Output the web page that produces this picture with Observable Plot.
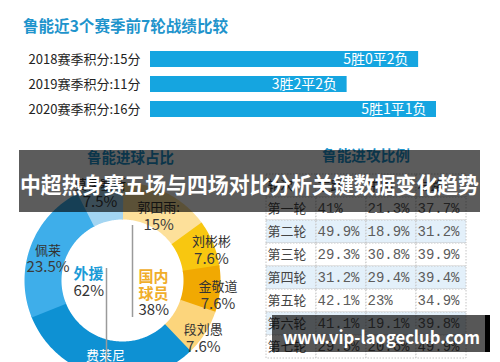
<!DOCTYPE html>
<html><head><meta charset="utf-8">
<script src="https://cdn.jsdelivr.net/npm/d3@7"></script>
<script src="https://cdn.jsdelivr.net/npm/@observablehq/plot@0.6"></script>
<style>
html,body{margin:0;padding:0;background:#fff;}
#wrap{position:relative;width:500px;height:362px;overflow:hidden;background:#fff;font-family:"Noto Sans CJK SC",sans-serif;}
#wrap > svg{position:absolute;left:0;top:0;}
</style></head><body><div id="wrap"></div>
<script>
// ---------- data ----------
const seasons = ["2018", "2019", "2020"];
const seasonPoints = [15, 11, 16];
const seasonRecords = ["5胜0平2负", "3胜2平2负", "5胜1平1负"];

const scorers = ["郭田雨:", "刘彬彬", "金敬道", "段刘愚", "费莱尼", "佩莱", "莫伊塞斯"];
const scorerShares = [15, 7.6, 7.6, 7.6, 31, 23.5, 7.5];
const scorerShareLabels = ["15%", "7.6%", "7.6%", "7.6%", "31%", "23.5%", "7.5%"];
const scorerColors = ["#fde09a", "#f8c710", "#f1a902", "#fcd57c", "#0e91d3", "#3eaeea", "#a3d5f2"];

const groupNames = ["外援", "国内\n球员"];
const groupShares = [62, 38];

const rounds = ["第一轮", "第二轮", "第三轮", "第四轮", "第五轮", "第六轮", "第七轮"];
const attackSides = ["左路", "中路", "右路"];
const leftShare = [41, 49.9, 29.3, 31.2, 42.1, 41.1, 29.5];
const centerShare = [21.3, 18.9, 30.8, 29.4, 23, 19.1, 20.6];
const rightShare = [37.7, 31.2, 39.9, 39.4, 34.9, 39.8, 49.9];

// ---------- layout ----------
const wrap = document.getElementById("wrap");
const FONT = "'Noto Sans CJK SC', sans-serif";
const place = (el) => { el.style.position = "absolute"; el.style.left = "0"; el.style.top = "0"; wrap.appendChild(el); return el; };

// Bar chart
const barData = seasons.map((s, i) => ({season: s, points: seasonPoints[i], record: seasonRecords[i]}));
place(Plot.plot({
  width: 500, height: 130,
  marginLeft: 150, marginRight: 64, marginTop: 41, marginBottom: 3,
  style: {fontFamily: FONT, fontSize: "13px", color: "#222", background: "transparent"},
  x: {domain: [0, 16], axis: null},
  y: {domain: seasons, padding: 0.34, label: null, tickSize: 0, tickPadding: 10,
      tickFormat: s => `${s}赛季积分:${seasonPoints[seasons.indexOf(s)]}分`},
  marks: [
    Plot.barX(barData, {x: "points", y: "season", fill: "#15a5e0"}),
    Plot.text(barData, {x: "points", y: "season", text: "record", textAnchor: "end", dx: -10, fill: "white", fontSize: 14})
  ]
}));

// Donut
const total = d3.sum(scorerShares);
let acc = 0;
const slices = scorers.map((name, i) => {
  const a0 = acc / total * 360; acc += scorerShares[i]; const a1 = acc / total * 360;
  return {name, share: scorerShares[i], label: scorerShareLabels[i], a0, a1, mid: (a0 + a1) / 2};
});
const rad = d => d * Math.PI / 180;
const RMID = 79.5, RING = 37;
const arcPts = slices.flatMap(s => {
  const pts = [];
  const b0 = s.a0 - 0.5, b1 = s.a1 + 0.5;
  for (let a = b0; a < b1; a += 1) pts.push({name: s.name, x: RMID * Math.sin(rad(a)), y: RMID * Math.cos(rad(a))});
  pts.push({name: s.name, x: RMID * Math.sin(rad(b1)), y: RMID * Math.cos(rad(b1))});
  return pts;
});
const labR = s => s.share >= 15 ? RMID : 96;
const lx = s => labR(s) * Math.sin(rad(s.mid));
const ly = s => labR(s) * Math.cos(rad(s.mid));
const groups = groupNames.map((n, i) => ({name: n, pct: groupShares[i] + "%", side: i === 0 ? -1 : 1}));
const gx = g => g.side < 0 ? -49 : 16;

place(Plot.plot({
  width: 250, height: 362, margin: 0,
  style: {fontFamily: FONT, background: "transparent"},
  x: {domain: [-98, 98], range: [24, 220], axis: null},
  y: {domain: [-98, 98], range: [378, 182], axis: null},
  color: {domain: scorers, range: scorerColors},
  marks: [
    Plot.line(arcPts, {x: "x", y: "y", z: "name", stroke: "name", strokeWidth: RING, strokeLinecap: "butt", curve: "linear"}),
    Plot.text(slices.filter(s => s.name !== "费莱尼"), {x: lx, y: ly, text: "name", dy: -2, fontSize: 13, fill: "#333"}),
    Plot.text(slices.filter(s => s.name !== "费莱尼"), {x: lx, y: ly, text: "label", dy: 15, fontSize: 15, fill: "#3a3a3a"}),
    Plot.text(slices.filter(s => s.name === "费莱尼"), {x: lx, y: ly, text: "name", dy: -2, fontSize: 13, fill: "white"}),
    Plot.text(slices.filter(s => s.name === "费莱尼"), {x: lx, y: ly, text: "label", dy: 15, fontSize: 15, fill: "white"}),
    Plot.ruleX([-16], {y1: -90, y2: 12, stroke: "#9a9a9a", strokeWidth: 1.5}),
    Plot.ruleX([10], {y1: -37, y2: 55, stroke: "#9a9a9a", strokeWidth: 1.5}),
    Plot.text(groups.filter(g => g.side < 0), {x: gx, y: 6, text: "name", textAnchor: "start", fontSize: 15, fontWeight: "bold", fill: "#1b9bd7"}),
    Plot.text(groups.filter(g => g.side < 0), {x: gx, y: -11, text: "pct", textAnchor: "start", fontSize: 15, fill: "#333"}),
    Plot.text(groups.filter(g => g.side > 0), {x: gx, y: -4.5, text: "name", textAnchor: "start", lineHeight: 1.13, fontSize: 15, fontWeight: "bold", fill: "#f0ad2a"}),
    Plot.text(groups.filter(g => g.side > 0), {x: gx, y: -30, text: "pct", textAnchor: "start", fontSize: 15, fill: "#333"})
  ]
}));

// Table
const tableCols = ["轮次", ...attackSides];
const tableRows = ["header", ...rounds];
const sideValues = [leftShare, centerShare, rightShare];
const cells = [];
tableCols.forEach(c => cells.push({row: "header", col: c, text: c, shade: "#ffffff", kind: "label"}));
rounds.forEach((r, i) => {
  const shade = i % 2 === 1 ? "#e3f0fa" : "#ffffff";
  cells.push({row: r, col: "轮次", text: r, shade, kind: "label"});
  attackSides.forEach((s, j) => cells.push({row: r, col: s, text: `${sideValues[j][i]}%`, shade, kind: "value"}));
});
const tablePlot = place(Plot.plot({
  width: 250, height: 362, margin: 0,
  style: {fontFamily: FONT, background: "transparent"},
  x: {domain: tableCols, range: [15, 217], padding: 0, axis: null},
  y: {domain: tableRows, range: [172, 360], padding: 0, axis: null},
  color: {type: "identity"},
  marks: [
    Plot.cell(cells, {x: "col", y: "row", fill: "shade", stroke: "#c4c4c4", strokeDasharray: "1.5,1.5", strokeWidth: 1}),
    Plot.text(cells.filter(d => d.kind === "label"), {x: "col", y: "row", text: "text", textAnchor: "start", dx: -24, fontSize: 13, fill: "#444"}),
    Plot.text(cells.filter(d => d.kind === "value"), {x: "col", y: "row", text: "text", textAnchor: "start", dx: -24, fontSize: 14, fontFamily: "'Liberation Mono', monospace", fill: "#5c5c5c"})
  ]
}));
tablePlot.style.left = "250px";

// Titles and overlays
const ov = d3.create("svg").attr("width", 500).attr("height", 362)
  .style("position", "absolute").style("left", 0).style("top", 0)
  .attr("font-family", "Noto Sans CJK SC, sans-serif");
const title = (t, x, y, size, len, fill, weight) => ov.append("text").attr("x", x).attr("y", y)
  .attr("dominant-baseline", "central").attr("font-size", size).attr("font-weight", weight || "bold")
  .attr("fill", fill).attr("textLength", len).attr("lengthAdjust", "spacingAndGlyphs").text(t);
title("鲁能近3个赛季前7轮战绩比较", 23, 25, 16, 205, "#1f94cc");
title("鲁能进球占比", 87, 156, 15, 87, "#1f94cc");
title("鲁能进攻比例", 322, 154, 15, 88, "#1f94cc");
ov.append("rect").attr("x", 19).attr("y", 150).attr("width", 461).attr("height", 62).attr("fill", "#000").attr("fill-opacity", 0.64);
title("中超热身赛五场与四场对比分析关键数据变化趋势", 20, 183, 22, 459, "#ffffff");
ov.append("rect").attr("x", 272).attr("y", 315).attr("width", 213).attr("height", 37).attr("fill", "#000").attr("fill-opacity", 0.66);
ov.append("rect").attr("x", 485).attr("y", 315).attr("width", 5).attr("height", 37).attr("fill", "#000");
title("www.vip-laogeclub.com", 283, 336, 18, 197, "#ffffff");
wrap.appendChild(ov.node());
</script></body></html>
